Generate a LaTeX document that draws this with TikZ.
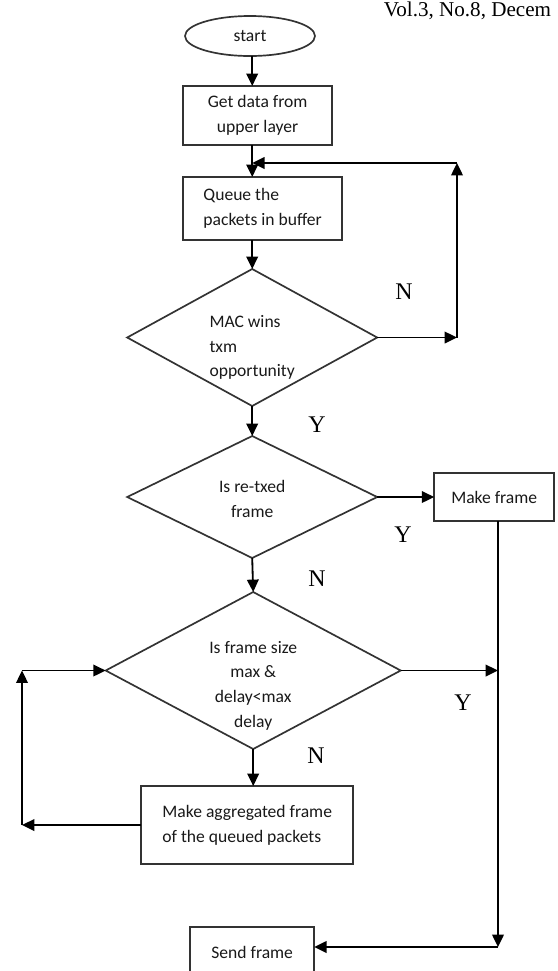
\documentclass[tikz,border=0pt]{standalone}
\usepackage{fontspec}
\setmainfont{Liberation Serif}
\newfontfamily\boxfont{Carlito}
\usetikzlibrary{arrows}
\usetikzlibrary{arrows.meta}
\usetikzlibrary{positioning}
\usetikzlibrary{shapes.geometric}

\begin{document}
\begin{tikzpicture}[x=0.25mm, y=-0.25mm,
    box/.style={draw=black!80, line width=1.2pt, outer sep=0pt, font=\boxfont\fontsize{12.5}{17.5}\selectfont, text=black!90},
    proc/.style={box, rectangle, align=center},
    decision/.style={box, diamond, inner sep=0pt},
    dtext/.style={font=\boxfont\fontsize{12.5}{17.5}\selectfont, text=black!90},
    yn/.style={font=\fontsize{17}{17}\selectfont},
    flow/.style={-{Triangle[length=3.1mm, width=2.9mm]}, line width=1.3pt}]

    \useasboundingbox (0,0) rectangle (557,971);

    \node (hdr) [anchor=base east, font=\fontsize{15}{15}\selectfont] at (556,16) {Vol.3, No.8, Decem};

    \node (start) [box, ellipse, minimum width=32.5mm, minimum height=10mm] at (250,36) {start};
    \node (getdata) [proc, minimum width=37.25mm, minimum height=14.75mm, below=7.5mm of start, xshift=1.9mm] {Get data from\\upper layer};
    \node (queue) [proc, align=left, minimum width=39.75mm, minimum height=15.75mm, below=8mm of getdata, xshift=1.25mm] {Queue the\\packets in buffer};
    \node (mac) [decision, minimum width=62.5mm, minimum height=34.25mm, below=7.25mm of queue, xshift=-2.6mm,
        label={[dtext, align=left, yshift=-2.5mm]center:MAC wins\\txm\\opportunity}] {};
    \node (retx) [decision, minimum width=62.5mm, minimum height=30.5mm, below=7.5mm of mac,
        label={[dtext, align=center, yshift=-0.5mm]center:Is re-txed\\frame}] {};
    \node (mkframe) [proc, minimum width=30mm, minimum height=12mm, right=14.25mm of retx] {Make frame};
    \node (fsize) [decision, minimum width=73.75mm, minimum height=39.25mm, below=8.5mm of retx, xshift=0.25mm,
        label={[dtext, align=center, yshift=-3.75mm]center:Is frame size\\max \&\\delay<max\\delay}] {};
    \node (aggr) [proc, align=left, minimum width=53mm, minimum height=19.5mm, below=9.25mm of fsize, xshift=-1.5mm] {Make aggregated frame\\of the queued packets};
    \node (send) [proc, minimum width=31mm, minimum height=12.5mm, below=15.75mm of aggr, xshift=1.25mm] {Send frame};

    \coordinate (nT) at (457,163);
    \coordinate (sj) at (498,947);
    \coordinate (aj) at (22,827);

    \draw[flow] (mac.north |- start.south) -- (mac.north |- getdata.north);
    \draw[flow] (mac.north |- getdata.south) -- (mac.north |- queue.north);
    \draw[flow] (mac.north |- queue.south) -- (mac.north);
    \draw[flow] (mac.east) -- (mac.east -| nT);
    \draw[flow] (mac.east -| nT) -- (nT);
    \draw[flow] (nT) -- (nT -| mac.north);
    \draw[flow] (mac.south) -- (retx.north);
    \draw[flow] (retx.east) -- (mkframe.west);
    \draw[flow] (retx.south) -- (fsize.north);
    \draw[flow] (mkframe.south -| sj) -- (sj);
    \draw[flow] (fsize.east) -- (fsize.east -| sj);
    \draw[flow] (sj) -- (sj -| send.east);
    \draw[flow] (fsize.south) -- (fsize.south |- aggr.north);
    \draw[flow] (aggr.west) -- (aggr.west -| aj);
    \draw[flow] (aggr.west -| aj) -- (aj |- fsize.west);
    \draw[flow] (aj |- fsize.west) -- (fsize.west);

    \node[yn] (n1) at (404,292) {N};
    \node[yn] (y1) at (317,425) {Y};
    \node[yn] (y2) at (403,535) {Y};
    \node[yn] (n2) at (317,579) {N};
    \node[yn] (y3) at (463,703) {Y};
    \node[yn] (n3) at (316,756) {N};
\end{tikzpicture}
\end{document}
